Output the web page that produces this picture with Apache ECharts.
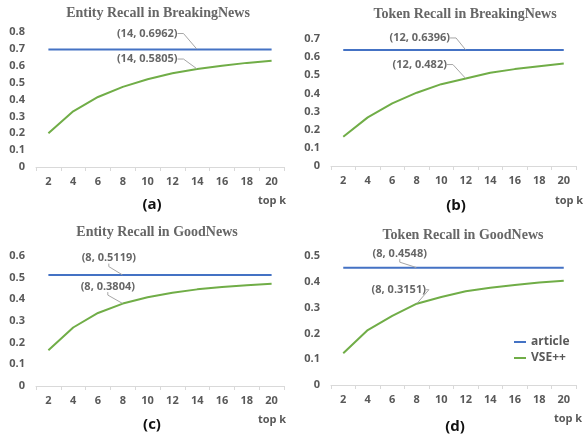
<!DOCTYPE html>
<html><head><meta charset="utf-8">
<script src="https://cdn.jsdelivr.net/npm/echarts@6/dist/echarts.min.js"></script>
<style>html,body{margin:0;padding:0;background:#fff}#c{width:583px;height:436px}</style>
</head><body><div id="c"></div>
<script>
const categories = ['2','4','6','8','10','12','14','16','18','20'];
const titles = ['Entity Recall in BreakingNews','Token Recall in BreakingNews','Entity Recall in GoodNews','Token Recall in GoodNews'];
const panelLabels = ['(a)','(b)','(c)','(d)'];
const yMaxes = [0.8, 0.7, 0.6, 0.5];
const articleA = [0.6962,0.6962,0.6962,0.6962,0.6962,0.6962,0.6962,0.6962,0.6962,0.6962];
const articleB = [0.6396,0.6396,0.6396,0.6396,0.6396,0.6396,0.6396,0.6396,0.6396,0.6396];
const articleC = [0.5119,0.5119,0.5119,0.5119,0.5119,0.5119,0.5119,0.5119,0.5119,0.5119];
const articleD = [0.4548,0.4548,0.4548,0.4548,0.4548,0.4548,0.4548,0.4548,0.4548,0.4548];
const vseA = [0.200,0.330,0.415,0.475,0.520,0.555,0.5805,0.600,0.617,0.630];
const vseB = [0.161,0.268,0.345,0.404,0.451,0.482,0.514,0.534,0.550,0.565];
const vseC = [0.165,0.270,0.337,0.3804,0.410,0.430,0.446,0.457,0.465,0.472];
const vseD = [0.123,0.213,0.268,0.3151,0.341,0.363,0.377,0.388,0.397,0.404];
const annotK = ['14','12','8','8'];
const articleAnnot = [0.6962, 0.6396, 0.5119, 0.4548];
const vseAnnot = [0.5805, 0.482, 0.3804, 0.3151];

const articles = [articleA, articleB, articleC, articleD];
const vses = [vseA, vseB, vseC, vseD];

// layout (pixels)
const grids = [
  {left: 36, top: 32, width: 248, height: 135},
  {left: 331, top: 39, width: 245, height: 127},
  {left: 36, top: 256, width: 248, height: 130},
  {left: 331, top: 256, width: 245, height: 129}
];
const titlePos = [[158,13],[465,14],[157,232],[463,235]];
const panelPos = [[152,205],[456,206],[152,425],[455,427]];
const topkPos = [[272,201],[569,201],[272,420],[568,419]];
const blueOff = [[-50,-16],[-46,-12],[-14,-17],[-17,-14]];
const greenOff = [[-50,-10],[-46,-14],[-15,-17],[-18,-14]];
const guideLen = [6, 6, 3, 3];

const FONT = '"Open Sans"';
const GRAY = '#595959';
const BLUE = '#4472C4';
const GREEN = '#70AD47';

const xAxes = [], yAxes = [], series = [], graphic = [];
for (let i = 0; i < 4; i++) {
  xAxes.push({
    gridIndex: i, type: 'category', data: categories, boundaryGap: true,
    axisLine: {show: true, lineStyle: {color: '#d9d9d9', width: 1}},
    axisTick: {show: true, length: 4, lineStyle: {color: '#d9d9d9'}},
    axisLabel: {color: GRAY, fontWeight: 'bold', fontSize: 11, fontFamily: FONT, margin: 9},
    splitLine: {show: false}
  });
  yAxes.push({
    gridIndex: i, type: 'value', min: 0, max: yMaxes[i], interval: 0.1,
    axisLine: {show: false}, axisTick: {show: false}, splitLine: {show: false},
    axisLabel: {color: GRAY, fontWeight: 'bold', fontSize: 11, fontFamily: FONT, margin: 11,
      formatter: v => String(Math.round(v * 10) / 10)}
  });
  series.push({
    name: 'article', type: 'line', xAxisIndex: i, yAxisIndex: i, data: articles[i],
    symbol: 'none', lineStyle: {color: BLUE, width: 2}, itemStyle: {color: BLUE}, silent: true, z: 3
  });
  series.push({
    name: 'VSE++', type: 'line', xAxisIndex: i, yAxisIndex: i, data: vses[i],
    symbol: 'none', lineStyle: {color: GREEN, width: 2}, itemStyle: {color: GREEN}, silent: true, z: 3
  });
  const k = annotK[i];
  const pairs = [[articleAnnot[i], blueOff[i]], [vseAnnot[i], greenOff[i]]];
  pairs.forEach(([val, off]) => {
    series.push({
      type: 'scatter', xAxisIndex: i, yAxisIndex: i, silent: true, z: 5,
      data: [[k, val]], symbol: 'circle', symbolSize: 1,
      itemStyle: {color: 'rgba(0,0,0,0)'},
      label: {show: true, position: 'inside', color: '#404040', fontWeight: 'bold', fontSize: 11, fontFamily: FONT,
        formatter: p => '(' + p.value[0] + ', ' + p.value[1] + ')'},
      labelLayout: {dx: off[0], dy: off[1]},
      labelLine: {show: true, length2: guideLen[i], lineStyle: {color: '#a6a6a6', width: 1}}
    });
  });
  graphic.push({type: 'text', x: titlePos[i][0], y: titlePos[i][1],
    style: {text: titles[i], fill: '#666', font: 'bold 14px "Liberation Serif"', textAlign: 'center', textVerticalAlign: 'middle'}});
  graphic.push({type: 'text', x: panelPos[i][0], y: panelPos[i][1],
    style: {text: panelLabels[i], fill: '#111', font: 'bold 15px "Open Sans"', textAlign: 'center', textVerticalAlign: 'middle'}});
  graphic.push({type: 'text', x: topkPos[i][0], y: topkPos[i][1],
    style: {text: 'top k', fill: GRAY, font: 'bold 11px "Open Sans"', textAlign: 'center', textVerticalAlign: 'middle'}});
}

const chart = echarts.init(document.getElementById('c'));
chart.setOption({
  animation: false,
  backgroundColor: '#fff',
  grid: grids,
  xAxis: xAxes,
  yAxis: yAxes,
  legend: {
    data: ['article', 'VSE++'], orient: 'vertical', left: 514, top: 336, padding: 0,
    icon: 'rect', itemWidth: 12, itemHeight: 2, itemGap: 4,
    textStyle: {color: GRAY, fontWeight: 'bold', fontSize: 12, fontFamily: FONT}
  },
  series: series,
  graphic: graphic
});
</script>
</body></html>
